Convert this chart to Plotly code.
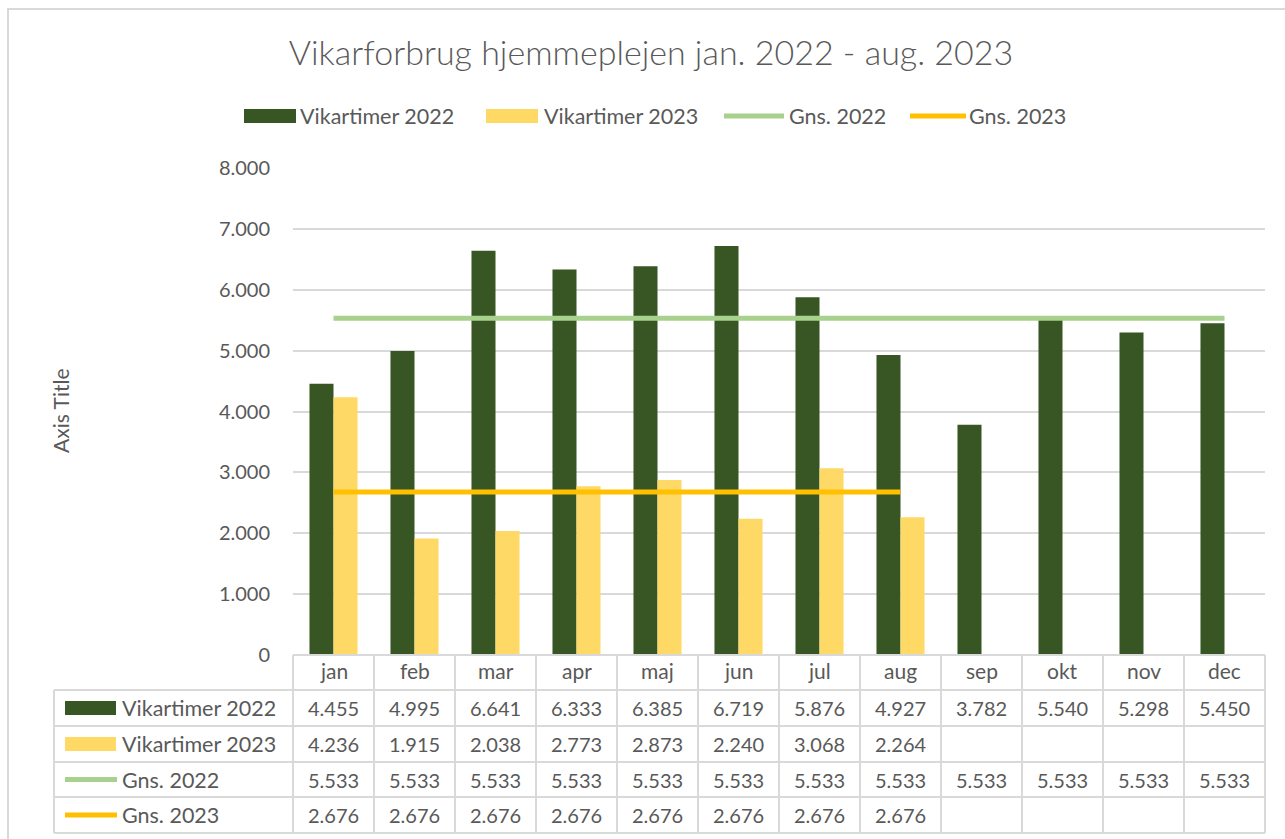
import plotly.graph_objects as go

# ---------------- data ----------------
months = ["jan", "feb", "mar", "apr", "maj", "jun", "jul", "aug", "sep", "okt", "nov", "dec"]
vikartimer_2022 = [4455, 4995, 6641, 6333, 6385, 6719, 5876, 4927, 3782, 5540, 5298, 5450]
vikartimer_2023 = [4236, 1915, 2038, 2773, 2873, 2240, 3068, 2264, None, None, None, None]
gns_2022 = [5533, 5533, 5533, 5533, 5533, 5533, 5533, 5533, 5533, 5533, 5533, 5533]
gns_2023 = [2676, 2676, 2676, 2676, 2676, 2676, 2676, 2676, None, None, None, None]
y_ticks = [0, 1000, 2000, 3000, 4000, 5000, 6000, 7000, 8000]

title_text = "Vikarforbrug hjemmeplejen jan. 2022 - aug. 2023"
axis_title = "Axis Title"

# ---------------- styling ----------------
C_2022 = "#375623"
C_2023 = "#FFD966"
C_G22 = "#A9D18E"
C_G23 = "#FFC000"
TXT = "#595959"
GRID = "#D9D9D9"
FONT = "Lato"

W, H = 1285, 839
PL, PR, PT, PB = 293, 1265, 168, 655  # plot area in pixels


def px(x):
    return (x - PL) / (PR - PL)


def py(y):
    return (PB - y) / (PB - PT)


def fmt(v):
    return "" if v is None else f"{v:,}".replace(",", ".")


series = [
    ("Vikartimer 2022", vikartimer_2022, C_2022, "bar"),
    ("Vikartimer 2023", vikartimer_2023, C_2023, "bar"),
    ("Gns. 2022", gns_2022, C_G22, "line"),
    ("Gns. 2023", gns_2023, C_G23, "line"),
]

fig = go.Figure()
for name, vals, color, kind in series:
    if kind == "bar":
        fig.add_trace(go.Bar(x=months, y=vals, name=name, marker=dict(color=color, line=dict(width=0))))
for name, vals, color, kind in series:
    if kind == "line":
        fig.add_trace(go.Scatter(x=months, y=vals, name=name, mode="lines",
                                 line=dict(color=color, width=5)))

shapes = []
annotations = []

# chart frame
shapes.append(dict(type="rect", xref="paper", yref="paper", x0=px(8), y0=py(9), x1=px(1300), y1=py(860),
                   line=dict(color=GRID, width=2), fillcolor="rgba(0,0,0,0)", layer="below"))

# ---------------- data table ----------------
n = len(months)
row_edges = [655, 690, 726, 762, 797, 833]
table_left = 54
header_y = (row_edges[0] + row_edges[1]) / 2 - 2
# horizontal lines
for i, y in enumerate(row_edges):
    x0 = px(PL) if i == 0 else px(table_left)
    shapes.append(dict(type="line", xref="paper", yref="paper", x0=x0, x1=px(PR), y0=py(y), y1=py(y),
                       line=dict(color=GRID, width=2)))
# vertical lines
for i in range(n + 1):
    xv = i / n
    shapes.append(dict(type="line", xref="paper", yref="paper", x0=xv, x1=xv, y0=py(row_edges[0]), y1=py(row_edges[-1]),
                       line=dict(color=GRID, width=2)))
shapes.append(dict(type="line", xref="paper", yref="paper", x0=px(table_left), x1=px(table_left),
                   y0=py(row_edges[1]), y1=py(row_edges[-1]), line=dict(color=GRID, width=2)))

# header (months)
for m in months:
    annotations.append(dict(x=m, xref="x", y=py(header_y), yref="paper", text=m, showarrow=False,
                            xanchor="center", yanchor="middle", font=dict(family=FONT, size=21, color=TXT)))

# rows
for r, (name, vals, color, kind) in enumerate(series):
    yc = (row_edges[r + 1] + row_edges[r + 2]) / 2
    if kind == "bar":
        shapes.append(dict(type="rect", xref="paper", yref="paper", x0=px(65), x1=px(116),
                           y0=py(yc - 7), y1=py(yc + 7), fillcolor=color, line=dict(width=0)))
    else:
        shapes.append(dict(type="line", xref="paper", yref="paper", x0=px(65), x1=px(117),
                           y0=py(yc), y1=py(yc), line=dict(color=color, width=5)))
    annotations.append(dict(x=px(120), xref="paper", y=py(yc), yref="paper", text=name, showarrow=False,
                            xanchor="left", yanchor="middle", font=dict(family=FONT, size=21.5, color=TXT)))
    for m, v in zip(months, vals):
        if v is None:
            continue
        annotations.append(dict(x=m, xref="x", y=py(yc), yref="paper", text=fmt(v), showarrow=False,
                                xanchor="center", yanchor="middle", font=dict(family=FONT, size=20, color=TXT)))

# ---------------- legend (top) ----------------
legend_y = 116
legend_items = [(244, 296, 298), (486, 538, 542), (724, 784, 787), (910, 966, 967)]
for (name, vals, color, kind), (s0, s1, tx) in zip(series, legend_items):
    if kind == "bar":
        shapes.append(dict(type="rect", xref="paper", yref="paper", x0=px(s0), x1=px(s1),
                           y0=py(legend_y - 7), y1=py(legend_y + 7), fillcolor=color, line=dict(width=0)))
    else:
        shapes.append(dict(type="line", xref="paper", yref="paper", x0=px(s0), x1=px(s1),
                           y0=py(legend_y), y1=py(legend_y), line=dict(color=color, width=5)))
    annotations.append(dict(x=px(tx), xref="paper", y=py(legend_y), yref="paper", text=name, showarrow=False,
                            xanchor="left", yanchor="middle", font=dict(family=FONT, size=21.5, color=TXT)))

# axis title
annotations.append(dict(x=px(60), xref="paper", y=py(411), yref="paper", text=axis_title, showarrow=False,
                        textangle=-90, xanchor="center", yanchor="middle", font=dict(family=FONT, size=21, color=TXT)))

fig.update_layout(
    width=W, height=H, autosize=False,
    margin=dict(l=PL, r=W - PR, t=PT, b=H - PB, pad=0),
    paper_bgcolor="white", plot_bgcolor="white",
    separators=",.",
    showlegend=False,
    barmode="group", bargap=0.407, bargroupgap=0,
    title=dict(text=title_text, x=651 / W, xref="container", xanchor="center",
               y=1 - 53 / H, yref="container", yanchor="middle",
               font=dict(family=FONT, size=34, color=TXT, weight=300)),
    font=dict(family=FONT, color=TXT),
    xaxis=dict(type="category", showticklabels=False, showgrid=False, zeroline=False, showline=False,
               ticks="", range=[-0.5, n - 0.5]),
    yaxis=dict(range=[0, 8000], tickvals=y_ticks, tickformat=",d", showgrid=True, gridcolor=GRID, gridwidth=1.5,
               zeroline=False, showline=False, ticks="", ticklabelstandoff=22,
               tickfont=dict(family=FONT, size=20, color=TXT)),
    shapes=shapes,
    annotations=annotations,
)

fig.write_html("out.html", config={"displayModeBar": False},
               post_script="document.body.style.margin='0';document.body.style.overflow='hidden';")
